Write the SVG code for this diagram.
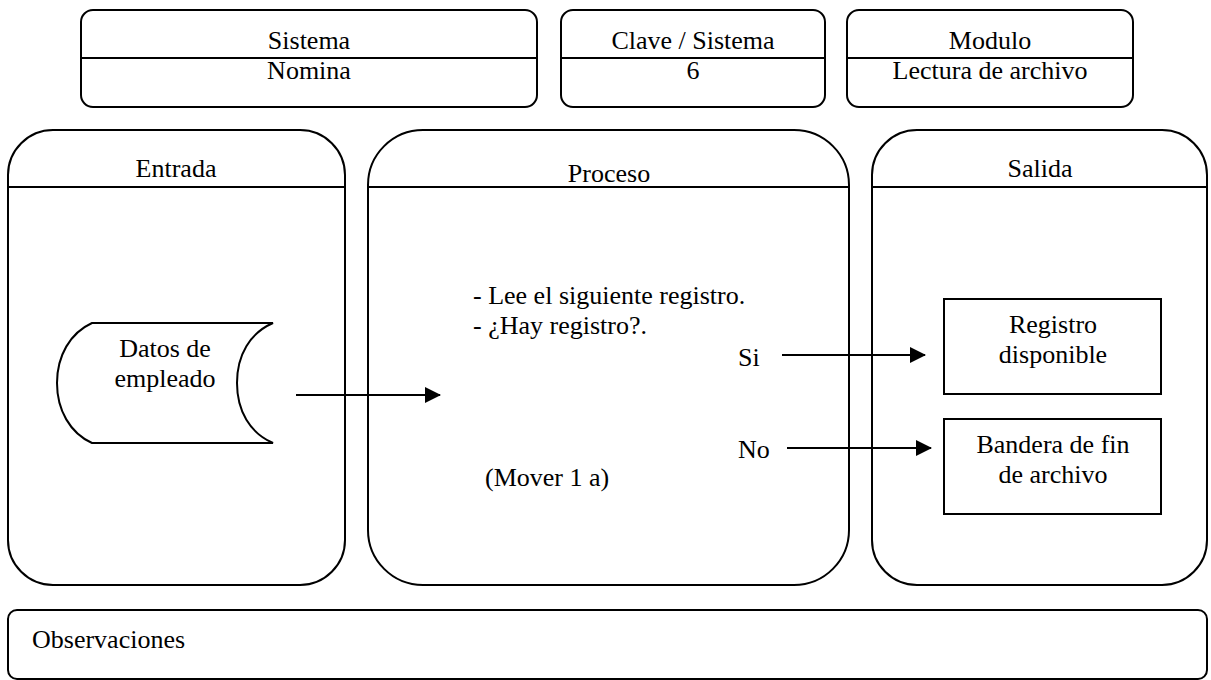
<svg xmlns="http://www.w3.org/2000/svg" width="1211" height="680" viewBox="0 0 1211 680">
<defs>
<style>
.b{fill:#fff;stroke:#000;stroke-width:2}
.l{fill:none;stroke:#000;stroke-width:2}
text{font-family:'Liberation Serif','Times New Roman',serif;font-size:26px;fill:#000}
.c{text-anchor:middle}
</style>
<marker id="ah" markerWidth="16" markerHeight="16" refX="15" refY="8" orient="auto" markerUnits="userSpaceOnUse">
<path d="M0,0 L16,8 L0,16 Z" fill="#000"/>
</marker>
</defs>
<rect width="1211" height="680" fill="#fff"/>
<g font-family="Liberation Serif, Times New Roman, serif" font-size="26">
<g id="sistema">
<rect class="b" x="81" y="10" width="456" height="97" rx="12"/>
<line class="l" x1="81" y1="58" x2="537" y2="58"/>
<text class="c" x="309" y="49">Sistema</text>
<text class="c" x="309" y="79">Nomina</text>
</g>
<g id="clave">
<rect class="b" x="561" y="10" width="264" height="97" rx="12"/>
<line class="l" x1="561" y1="58" x2="825" y2="58"/>
<text class="c" x="693" y="49">Clave / Sistema</text>
<text class="c" x="693" y="79">6</text>
</g>
<g id="modulo">
<rect class="b" x="847" y="10" width="286" height="97" rx="12"/>
<line class="l" x1="847" y1="58" x2="1133" y2="58"/>
<text class="c" x="990" y="49">Modulo</text>
<text class="c" x="990" y="79">Lectura de archivo</text>
</g>
<g id="entrada">
<rect class="b" x="8" y="130" width="337" height="455" rx="45"/>
<line class="l" x1="8" y1="187" x2="345" y2="187"/>
<text class="c" x="176" y="177">Entrada</text>
</g>
<g id="proceso">
<rect class="b" x="368" y="130" width="481" height="455" rx="55"/>
<line class="l" x1="368" y1="187" x2="849" y2="187"/>
<text class="c" x="609" y="182">Proceso</text>
<text x="473" y="304">- Lee el siguiente registro.</text>
<text x="473" y="334">- ¿Hay registro?.</text>
<text x="738" y="366">Si</text>
<text x="738" y="458">No</text>
<text x="485" y="486">(Mover 1 a)</text>
</g>
<g id="salida">
<rect class="b" x="872" y="130" width="335" height="455" rx="45"/>
<line class="l" x1="872" y1="187" x2="1207" y2="187"/>
<text class="c" x="1040" y="177">Salida</text>
</g>
<g id="datos">
<path class="b" d="M92,323 L273,323 C250,333 237,355 237,383 C237,411 250,433 273,443 L92,443 C70,433 57,410 57,383 C57,356 70,333 92,323 Z"/>
<text class="c" x="165" y="357">Datos de</text>
<text class="c" x="165" y="387">empleado</text>
</g>
<g id="registro">
<rect class="b" x="944" y="299" width="217" height="95"/>
<text class="c" x="1053" y="333">Registro</text>
<text class="c" x="1053" y="363">disponible</text>
</g>
<g id="bandera">
<rect class="b" x="944" y="419" width="217" height="95"/>
<text class="c" x="1053" y="453">Bandera de fin</text>
<text class="c" x="1053" y="483">de archivo</text>
</g>
<g id="observaciones">
<rect class="b" x="8" y="610" width="1199" height="69" rx="9"/>
<text x="32" y="648">Observaciones</text>
</g>
</g>
<g id="connectors">
<line class="l" x1="296" y1="395" x2="440" y2="395" marker-end="url(#ah)"/>
<line class="l" x1="782" y1="355" x2="925" y2="355" marker-end="url(#ah)"/>
<line class="l" x1="787" y1="448" x2="931" y2="448" marker-end="url(#ah)"/>
</g>
</svg>
